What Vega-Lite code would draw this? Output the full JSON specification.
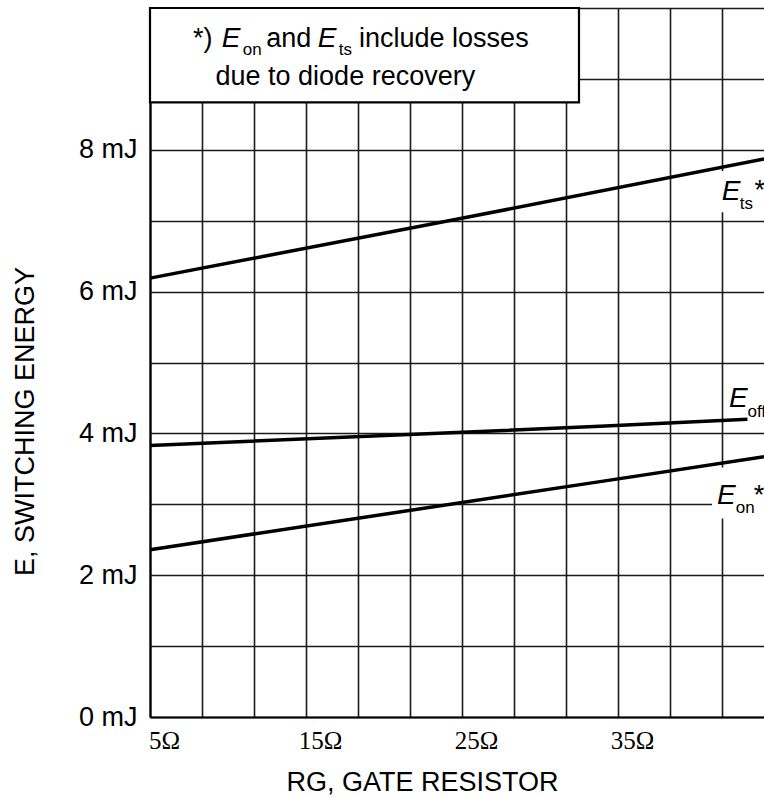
{
  "$schema": "https://vega.github.io/schema/vega-lite/v6.json",
  "width": 614,
  "height": 709,
  "autosize": {"type": "none"},
  "padding": {"left": 150, "top": 8, "right": 0, "bottom": 81},
  "background": "white",
  "view": {"stroke": null},
  "config": {"font": "Liberation Sans"},
  "datasets": {
    "box": [{"rg": 5, "rg2": 32.5, "energy": 8.67, "energy2": 10}],
    "labelbg": [
      {"rg": 41.28, "rg2": 44.36, "energy": 7.12, "energy2": 7.7},
      {"rg": 41.03, "rg2": 44.36, "energy": 2.8, "energy2": 3.52}
    ],
    "curves": [
      {"series": "E_ts", "rg": 5, "energy": 6.19},
      {"series": "E_ts", "rg": 24.9, "energy": 7.03},
      {"series": "E_ts", "rg": 44.36, "energy": 7.87},
      {"series": "E_off", "rg": 5, "energy": 3.83},
      {"series": "E_off", "rg": 33.85, "energy": 4.1},
      {"series": "E_off", "rg": 43.3, "energy": 4.2},
      {"series": "E_on", "rg": 5, "energy": 2.36},
      {"series": "E_on", "rg": 33.85, "energy": 3.32},
      {"series": "E_on", "rg": 44.36, "energy": 3.67}
    ],
    "plainText": [
      {"label": "*)", "rg": 7.76, "energy": 9.45},
      {"label": "and", "rg": 12.45, "energy": 9.45},
      {"label": "include losses", "rg": 18.4, "energy": 9.45},
      {"label": "due to diode recovery", "rg": 9.2, "energy": 8.91},
      {"label": "*", "rg": 43.75, "energy": 7.3},
      {"label": "*", "rg": 43.7, "energy": 3.0}
    ],
    "symbolText": [
      {"label": "E", "rg": 9.6, "energy": 9.45},
      {"label": "E", "rg": 15.75, "energy": 9.45},
      {"label": "E", "rg": 41.65, "energy": 7.29},
      {"label": "E", "rg": 42.12, "energy": 4.372},
      {"label": "E", "rg": 41.35, "energy": 3.004}
    ],
    "subText": [
      {"label": "on", "rg": 10.95, "energy": 9.34},
      {"label": "ts", "rg": 17.1, "energy": 9.34},
      {"label": "ts", "rg": 42.8, "energy": 7.165},
      {"label": "off", "rg": 43.3, "energy": 4.231},
      {"label": "on", "rg": 42.55, "energy": 2.877}
    ]
  },
  "encoding": {
    "x": {
      "field": "rg",
      "type": "quantitative",
      "scale": {"domain": [5, 44.36], "nice": false, "zero": false},
      "axis": {
        "title": "RG, GATE RESISTOR",
        "titleFont": "Liberation Sans",
        "titleFontSize": 27,
        "titleFontWeight": "normal",
        "titleColor": "black",
        "titleX": 272,
        "titleY": 73,
        "titleAlign": "center",
        "titleBaseline": "alphabetic",
        "values": [5, 8.3333, 11.6667, 15, 18.3333, 21.6667, 25, 28.3333, 31.6667, 35, 38.3333, 41.6667],
        "labelExpr": "(datum.value == 5 || datum.value == 15 || datum.value == 25 || datum.value == 35) ? datum.value + 'Ω' : ''",
        "labelFont": "Liberation Serif",
        "labelFontSize": 25,
        "labelColor": "black",
        "labelFlush": false,
        "labelOverlap": false,
        "labelOffset": 14,
        "labelPadding": 11,
        "ticks": false,
        "tickSize": 0,
        "grid": true,
        "gridColor": "#1a1a1a",
        "gridWidth": 1.6,
        "gridOpacity": 1,
        "domainColor": "black",
        "domainWidth": 2.2
      }
    },
    "y": {
      "field": "energy",
      "type": "quantitative",
      "scale": {"domain": [0, 10], "nice": false},
      "axis": {
        "title": "E, SWITCHING ENERGY",
        "titleFont": "Liberation Sans",
        "titleFontSize": 27,
        "titleFontWeight": "normal",
        "titleColor": "black",
        "titleAngle": -90,
        "titleX": -117,
        "titleY": 413,
        "titleAlign": "center",
        "titleBaseline": "alphabetic",
        "values": [0, 1, 2, 3, 4, 5, 6, 7, 8, 9, 10],
        "labelExpr": "(datum.value % 2 == 0 && datum.value < 10) ? datum.value + ' mJ' : ''",
        "labelFontSize": 27,
        "labelColor": "black",
        "labelPadding": 13,
        "labelOverlap": false,
        "labelFlush": false,
        "ticks": false,
        "tickSize": 0,
        "grid": true,
        "gridColor": "#1a1a1a",
        "gridWidth": 1.6,
        "gridOpacity": 1,
        "domainColor": "black",
        "domainWidth": 2.2
      }
    }
  },
  "layer": [
    {
      "data": {"name": "box"},
      "mark": {"type": "rect", "fill": "white", "stroke": "black", "strokeWidth": 2.2},
      "encoding": {"x2": {"field": "rg2"}, "y2": {"field": "energy2"}}
    },
    {
      "data": {"name": "labelbg"},
      "mark": {"type": "rect", "fill": "white", "stroke": null},
      "encoding": {"x2": {"field": "rg2"}, "y2": {"field": "energy2"}}
    },
    {
      "data": {"name": "curves"},
      "mark": {"type": "line", "color": "black", "strokeWidth": 3.5},
      "encoding": {"detail": {"field": "series", "type": "nominal"}}
    },
    {
      "data": {"name": "plainText"},
      "mark": {"type": "text", "align": "left", "baseline": "alphabetic", "fontSize": 27, "color": "black"},
      "encoding": {"text": {"field": "label"}}
    },
    {
      "data": {"name": "symbolText"},
      "mark": {"type": "text", "align": "left", "baseline": "alphabetic", "fontSize": 28, "fontStyle": "italic", "color": "black"},
      "encoding": {"text": {"field": "label"}}
    },
    {
      "data": {"name": "subText"},
      "mark": {"type": "text", "align": "left", "baseline": "alphabetic", "fontSize": 17, "color": "black"},
      "encoding": {"text": {"field": "label"}}
    }
  ]
}
